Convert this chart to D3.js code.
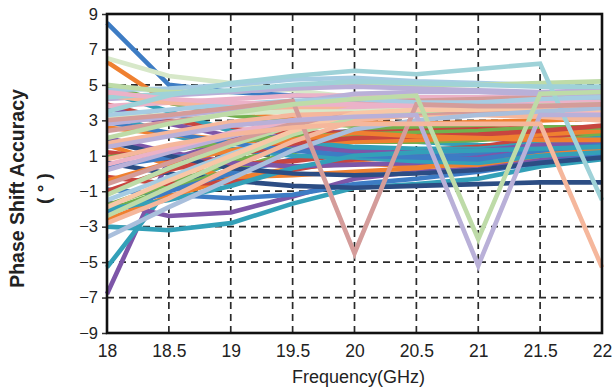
<!DOCTYPE html>
<html>
<head>
<meta charset="utf-8">
<script src="https://cdn.jsdelivr.net/npm/d3@7"></script>
<style>
  html, body { margin: 0; padding: 0; background: #fff; }
  svg { display: block; }
  text { font-family: "Liberation Sans", Arial, sans-serif; fill: #222; }
</style>
</head>
<body>
<svg id="chart" width="612" height="392"></svg>
<script>
// Frequency sweep (GHz)
const freqs = [18, 18.5, 19, 19.5, 20, 20.5, 21, 21.5, 22];
const xTicks = [18, 18.5, 19, 19.5, 20, 20.5, 21, 21.5, 22];
const yTicks = [-9, -7, -5, -3, -1, 1, 3, 5, 7, 9];

// Phase-state colour names
const palette = {
  blue: "#3d7cc4", orange: "#ef8030", green: "#72b04e", red: "#c8453f",
  purple: "#7d56a8", teal: "#33a0b8", navy: "#2c4d84",
  lightblue: "#a6cce2", salmon: "#f5b79c", lightgreen: "#bedba8", rose: "#d49c9a",
  lavender: "#b9b0d8", pink: "#ebb2c8", palegreen: "#d7e8c9", lightteal: "#9fd2d8",
  steel: "#a9bfdc", peach: "#f8c7a6"
};

// Phase shift error per state (degrees)
const stateColors = [
  "blue", "orange", "purple", "teal", "teal", "purple", "blue", "navy", "orange", "green",
  "red", "orange", "green", "blue", "red", "purple", "teal", "green", "red", "orange",
  "blue", "teal", "purple", "green", "red", "orange", "blue", "teal", "navy",
  "palegreen", "lightblue", "lightgreen", "lavender", "pink", "salmon", "rose", "lightblue",
  "lightgreen", "lavender", "salmon", "pink", "lightteal", "palegreen", "lavender", "salmon",
  "rose", "lightblue", "pink", "lightgreen", "peach", "lightteal",
  "steel", "rose", "lavender", "lightgreen", "salmon"
];
const stateErrors = [
  [8.5, 5.0, 4.6, 4.4, 4.3, 4.2, 4.2, 4.1, 4.1],
  [6.3, 4.0, 3.4, 3.1, 2.9, 2.8, 2.9, 3.0, 3.1],
  [-6.8, 0.8, 1.8, 2.2, 2.4, 2.2, 2.0, 1.8, 1.6],
  [-5.3, -0.8, 0.6, 1.5, 2.0, 1.8, 1.6, 1.5, 1.3],
  [-3.0, -3.2, -2.8, -1.7, -0.8, -0.6, -0.3, 0.4, 0.8],
  [-1.6, -2.4, -2.2, -1.3, -0.3, 0.1, 0.3, 0.8, 1.0],
  [-0.9, -1.2, -1.4, -1.2, -0.6, -0.3, 0.1, 0.6, 1.0],
  [0.6, 0.0, -0.4, -0.7, -0.8, -0.7, -0.6, -0.5, -0.5],
  [-2.6, -1.3, -0.3, 0.3, 0.6, 0.4, 0.5, 1.0, 1.4],
  [-1.8, -0.6, 0.6, 1.6, 2.5, 2.6, 2.5, 2.3, 2.0],
  [-0.2, -0.6, -0.5, 0.2, 0.8, 0.9, 1.0, 1.5, 1.9],
  [1.6, 0.5, -0.2, -0.1, 0.1, 0.3, 0.7, 1.2, 1.5],
  [-2.1, -0.9, 0.2, 1.2, 1.8, 1.8, 1.9, 2.1, 2.2],
  [-2.3, -1.0, 0.0, 0.8, 1.2, 1.0, 1.0, 1.3, 1.8],
  [1.2, 0.8, 0.5, 0.7, 1.1, 1.3, 1.5, 2.0, 2.4],
  [2.0, 1.2, 0.6, 0.4, 0.5, 0.6, 0.9, 1.4, 1.9],
  [3.4, 2.2, 1.4, 1.0, 0.9, 0.7, 0.6, 1.0, 1.2],
  [4.9, 4.0, 3.3, 2.9, 2.7, 2.7, 2.6, 2.4, 2.2],
  [3.9, 3.0, 2.5, 2.3, 2.3, 2.4, 2.5, 2.6, 2.5],
  [2.6, 2.2, 1.9, 1.7, 1.8, 1.9, 2.0, 2.2, 2.4],
  [0.4, 0.9, 1.2, 1.3, 1.4, 1.3, 1.2, 1.6, 2.0],
  [4.6, 3.5, 2.4, 1.8, 1.5, 1.4, 1.4, 1.7, 2.0],
  [3.7, 2.8, 2.1, 1.6, 1.2, 1.2, 1.3, 1.6, 1.7],
  [0.9, 1.3, 1.8, 2.1, 2.2, 2.3, 2.4, 2.6, 2.6],
  [-1.0, 0.2, 1.0, 1.7, 2.0, 2.1, 2.2, 2.4, 2.7],
  [-0.4, 0.6, 1.3, 1.9, 2.3, 2.1, 2.0, 1.9, 1.9],
  [2.9, 2.3, 1.7, 1.3, 1.0, 0.9, 0.8, 1.3, 1.6],
  [-2.0, -1.5, -0.7, 0.3, 1.0, 1.2, 1.3, 1.4, 1.5],
  [1.8, 1.0, 0.3, 0.0, -0.1, 0.0, 0.2, 0.6, 0.9],
  [6.5, 5.5, 5.1, 4.7, 4.3, 4.0, 3.8, 3.7, 3.6],
  [4.7, 4.8, 5.0, 5.3, 5.4, 5.2, 5.1, 5.0, 4.8],
  [5.0, 4.6, 4.6, 4.8, 5.0, 5.0, 5.0, 5.1, 5.2],
  [4.2, 4.4, 4.6, 4.8, 4.9, 4.8, 4.7, 4.6, 4.7],
  [3.8, 4.0, 4.2, 4.4, 4.4, 4.3, 4.3, 4.4, 4.5],
  [-2.8, -1.4, 0.3, 1.8, 3.0, 3.3, 3.4, 3.5, 3.4],
  [2.4, 2.9, 3.4, 3.8, 4.1, 4.1, 4.2, 4.3, 4.4],
  [-1.5, -0.2, 1.1, 2.3, 3.3, 3.6, 3.8, 3.9, 4.0],
  [-1.2, 0.3, 1.6, 2.7, 3.5, 3.7, 3.9, 4.0, 4.2],
  [0.2, 1.2, 2.1, 2.9, 3.6, 3.8, 3.9, 4.1, 4.3],
  [4.4, 4.0, 3.8, 3.7, 3.7, 3.5, 3.4, 3.3, 3.2],
  [0.5, 1.4, 2.3, 3.0, 3.7, 3.9, 4.0, 4.1, 4.0],
  [4.3, 4.5, 4.7, 5.0, 5.2, 5.1, 5.0, 4.9, 4.9],
  [3.2, 3.3, 3.4, 3.5, 3.5, 3.6, 3.6, 3.7, 3.8],
  [2.8, 3.2, 3.6, 4.0, 4.5, 4.6, 4.6, 4.5, 4.5],
  [1.7, 2.3, 2.9, 3.3, 3.4, 3.4, 3.3, 3.2, 3.0],
  [-0.6, 0.6, 1.8, 2.8, 3.3, 3.4, 3.5, 3.6, 3.6],
  [3.3, 3.6, 3.9, 4.1, 4.2, 4.0, 4.0, 4.2, 4.3],
  [4.6, 4.2, 4.0, 3.9, 3.9, 3.8, 3.7, 3.6, 3.5],
  [-2.4, -0.8, 0.8, 2.2, 3.2, 3.5, 3.7, 3.8, 3.9],
  [-1.9, -0.4, 1.0, 2.4, 3.4, 3.6, 3.6, 3.7, 3.6],
  [3.5, 4.4, 5.1, 5.5, 5.8, 5.6, 5.9, 6.2, -1.5],
  [-3.6, -1.9, -0.3, 1.3, 2.5, 3.0, 3.3, 3.5, 3.7],
  [3.0, 3.3, 3.7, 4.1, -4.5, 3.9, 3.8, 3.8, 3.9],
  [1.5, 2.1, 2.7, 3.0, 3.2, 3.3, -5.2, 3.3, 3.3],
  [2.0, 2.8, 3.4, 3.9, 4.2, 4.4, -3.7, 4.5, 4.6],
  [0.8, 1.6, 2.2, 2.6, 2.8, 2.8, 2.8, 2.8, -5.3]
];

const svg = d3.select("#chart");
const margin = { left: 107, right: 10, top: 14, bottom: 59 };
const W = 612, H = 392;

const x = d3.scaleLinear().domain([18, 22]).range([margin.left, W - margin.right]);
const y = d3.scaleLinear().domain([-9, 9]).range([H - margin.bottom, margin.top]);

// dashed grid
const grid = svg.append("g").attr("stroke", "#2a2a2a").attr("stroke-width", 1.7)
  .attr("stroke-dasharray", "7,5");
grid.selectAll("line.v").data(xTicks.slice(1, -1)).join("line")
  .attr("x1", d => x(d)).attr("x2", d => x(d))
  .attr("y1", y(9)).attr("y2", y(-9));
grid.selectAll("line.h").data(yTicks.slice(1, -1)).join("line")
  .attr("x1", x(18)).attr("x2", x(22))
  .attr("y1", d => y(d)).attr("y2", d => y(d));

// one line per phase state
const line = d3.line().x((d, i) => x(freqs[i])).y(d => y(d));
svg.append("g").selectAll("path").data(stateErrors).join("path")
  .attr("d", line)
  .attr("fill", "none")
  .attr("stroke", (d, i) => palette[stateColors[i]])
  .attr("stroke-width", 4.6)
  .attr("stroke-linejoin", "miter");

// axes
const yAxis = d3.axisLeft(y).tickValues(yTicks).tickSize(5).tickPadding(4);
const gy = svg.append("g").attr("transform", `translate(${x(18)},0)`).call(yAxis);
gy.select(".domain").remove();
gy.selectAll("line").attr("stroke", "#333").attr("stroke-width", 1.5);
gy.selectAll("text").attr("font-size", 16.5).style("fill", "#222");

const xAxis = d3.axisBottom(x).tickValues(xTicks).tickSize(0).tickPadding(12)
  .tickFormat(d3.format("~g"));
const gx = svg.append("g").attr("transform", `translate(0,${y(-9)})`).call(xAxis);
gx.select(".domain").remove();
gx.selectAll("text").attr("font-size", 17.5).style("fill", "#222");

// plot frame
svg.append("rect")
  .attr("x", x(18)).attr("y", y(9))
  .attr("width", x(22) - x(18)).attr("height", y(-9) - y(9))
  .attr("fill", "none").attr("stroke", "#111").attr("stroke-width", 2.6);

// titles
svg.append("text")
  .attr("transform", `translate(24,${(y(9) + y(-9)) / 2 + 15}) rotate(-90)`)
  .attr("text-anchor", "middle")
  .attr("font-size", 19.5).attr("font-weight", "bold")
  .text("Phase Shift Accuracy");
svg.append("text")
  .attr("transform", `translate(50,${(y(9) + y(-9)) / 2 + 15}) rotate(-90)`)
  .attr("text-anchor", "middle")
  .attr("font-size", 19).attr("font-weight", "bold")
  .text("(  °  )");
svg.append("text")
  .attr("x", (x(18) + x(22)) / 2 + 4).attr("y", 383)
  .attr("text-anchor", "middle")
  .attr("font-size", 18)
  .text("Frequency(GHz)");
</script>
</body>
</html>
